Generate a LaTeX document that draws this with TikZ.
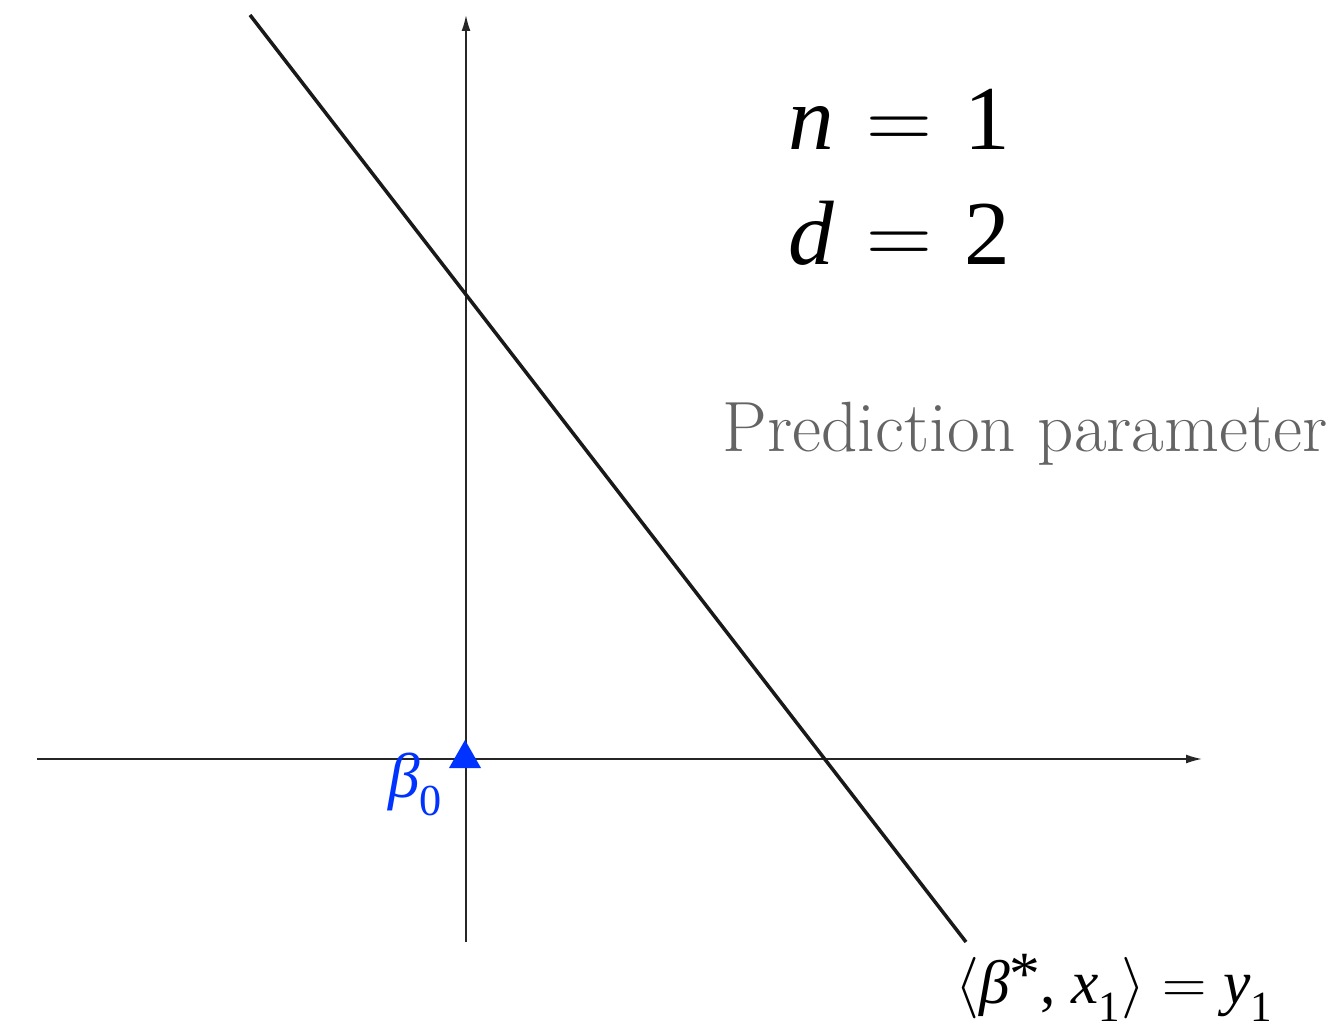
\documentclass[tikz,border=0pt]{standalone}
\usepackage{fix-cm}
\usepackage{fontspec}
\newfontfamily\tms{Liberation Serif}
\usetikzlibrary{arrows.meta}
\definecolor{myblue}{RGB}{0,51,255}
\definecolor{mygray}{RGB}{100,100,100}
\tikzset{
  axis/.style={line width=0.9pt, draw=black!85, -{Latex[length=9pt,width=5pt]}},
  mainline/.style={line width=2pt, draw=black!90},
  bigtxt/.style={anchor=base west, inner sep=0pt, font=\tms\fontsize{52}{62}\selectfont},
  eqtxt/.style={anchor=base west, inner sep=0pt, font=\tms\fontsize{35}{42}\selectfont},
}
\begin{document}
\begin{tikzpicture}[x=0.02cm,y=-0.02cm]
\useasboundingbox (0,0) rectangle (1332,1030);
\coordinate (xs) at (37,759);
\coordinate (xe) at (1202,759);
\coordinate (ys) at (466,942);
\coordinate (ye) at (466,15);
\coordinate (ls) at (250,15);
\coordinate (le) at (966,942);
\draw[axis] (xs) -- (xe);
\draw[axis] (ys) -- (ye);
\draw[mainline] (ls) -- (le);
\fill[myblue] (465,740) -- (481,768) -- (449,768) -- cycle;
\node[eqtxt, text=myblue, font=\tms\fontsize{36}{43}\selectfont] (b0) at (388,797) {\textit{β}\textsubscript{\raisebox{-0.45ex}{0}}};
\node[bigtxt] (n1) at (788,150) {\textit{n}\hspace{4pt}${}={}$\hspace{4pt}1};
\node[bigtxt] (d2) at (788,265) {\textit{d}\hspace{4pt}${}={}$\hspace{4pt}2};
\node[anchor=base west, inner sep=0pt, text=mygray, font=\fontsize{40.5}{48}\selectfont] (pp) at (722,452) {Prediction parameter};
\node[eqtxt] (eq) at (955,1003) {$\langle$\textit{β}\raisebox{0.3ex}{*}, \textit{x}\textsubscript{\raisebox{-0.45ex}{1}}$\rangle{}={}$\textit{y}\textsubscript{\raisebox{-0.45ex}{1}}};
\end{tikzpicture}
\end{document}
